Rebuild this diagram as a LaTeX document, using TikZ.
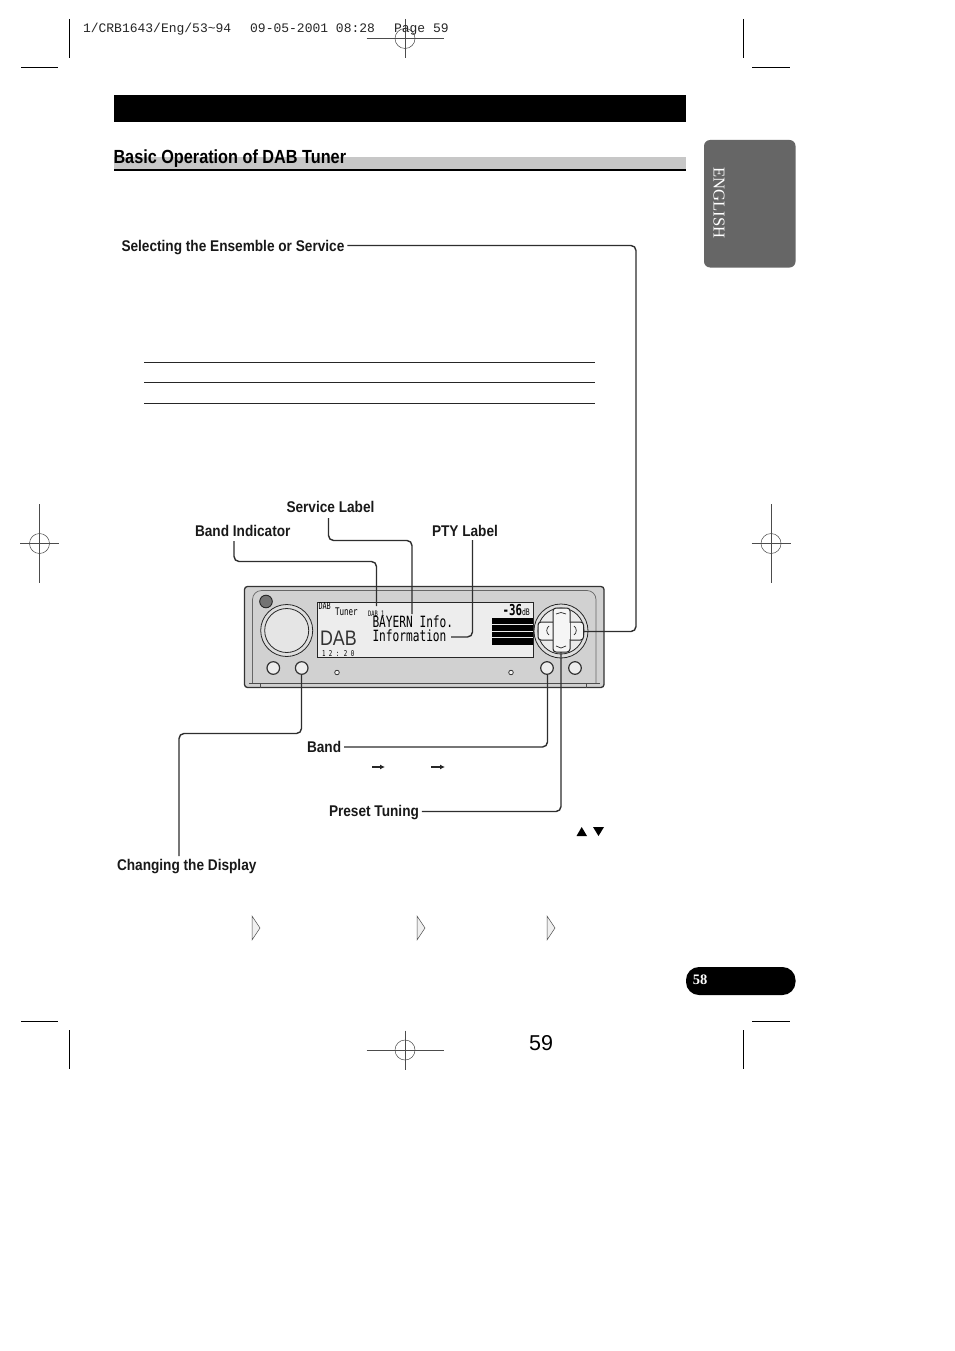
\documentclass[tikz,border=0pt]{standalone}
\usepackage{fontspec}
\usetikzlibrary{arrows.meta}
\setmainfont{Liberation Serif}
\newfontfamily\labfont[FakeStretch=0.88]{Liberation Sans}
\newfontfamily\headfont[FakeStretch=0.855]{Liberation Sans}
\newfontfamily\slugfont{Liberation Mono}
\newfontfamily\lcdfont[FakeStretch=0.72]{DejaVu Sans Mono}
\newfontfamily\plainsans{Liberation Sans}
\newcommand{\fs}[1]{\fontsize{#1}{#1}\selectfont}
\tikzset{
  every node/.style={inner sep=0pt,outer sep=0pt},
  lab/.style={font=\labfont\bfseries\fs{15.5},text=black!90},
  conn/.style={line width=1.4pt,draw=black!82,rounded corners=5pt},
  reg/.style={line width=0.7pt,draw=black},
  cross/.style={line width=0.5pt,draw=black!70},
  rule/.style={line width=0.9pt,draw=black!85},
  dev/.style={line width=0.8pt,draw=black!85},
  lcd/.style={font=\lcdfont\fs{15.5},text=black},
  triout/.style={line width=0.5pt,draw=black!70,fill=black!6},
  btn/.style={line width=1.2pt,draw=black!80,fill=black!7},
  jbar/.style={line width=1pt,draw=black!85,fill=black!4,rounded corners=3pt},
}
% centre x, centre y, half width, half height
\newcommand{\regcross}[4]{%
  \draw[cross] (#1-#3,#2) -- (#1+#3,#2) (#1,#2-#4) -- (#1,#2+#4);
  \draw[cross] (#1,#2) circle (10);}
\begin{document}
\begin{tikzpicture}[x=1pt,y=-1pt]
\useasboundingbox (0,0) rectangle (954,1351);
\fill[white] (0,0) rectangle (954,1351);
% crop marks
\draw[reg] (69.5,19) -- (69.5,58) (21,67.5) -- (58,67.5);
\draw[reg] (743,19) -- (743,58) (752,67.5) -- (790,67.5);
\draw[reg] (69.5,1030) -- (69.5,1069) (21,1021) -- (58,1021);
\draw[reg] (743,1030) -- (743,1069) (752,1021) -- (790,1021);
\regcross{405}{38.5}{38.5}{19.5}
\regcross{405}{1050}{38.5}{19.5}
\regcross{39.5}{543.5}{19.5}{39.5}
\regcross{771}{543.5}{19.5}{39.5}
\node[anchor=west,font=\slugfont\fs{13},text=black!85] (slug) at (83,29.5) {1/CRB1643/Eng/53\textasciitilde 94\hspace{19pt}09-05-2001 08:28\hspace{19pt}Page 59};
% heading
\fill[black] (114,95) rectangle (686,122);
\fill[black!22] (114,157) rectangle (686,169);
\fill[black] (114,169) rectangle (686,171);
\node[anchor=base west,font=\headfont\bfseries\fs{19},text=black] (title) at (113.5,163.5) {Basic Operation of DAB Tuner};
% side tab
\fill[black!60,rounded corners=6pt] (704,140) rectangle (795.5,267.5);
\node[rotate=-90,anchor=center,font=\fs{16.6},text=white] (english) at (719,203) {ENGLISH};
% page tab
\fill[black,rounded corners=13pt] (686,967) rectangle (795.5,995);
\node[anchor=center,font=\bfseries\fs{14.5},text=white] (p58) at (700,979.5) {58};
\node[anchor=base,font=\plainsans\fs{21.5},text=black] (p59) at (541,1050) {59};
% table rules
\draw[rule] (144,362.5) -- (595,362.5) (144,382.5) -- (595,382.5) (144,403.5) -- (595,403.5);
% device body
\draw[line width=1.3pt,draw=black!80,fill=black!18,rounded corners=3pt] (244.5,586.5) rectangle (604,687.5);
\draw[line width=0.7pt,draw=black!60,rounded corners=9pt] (252.5,683) -- (252.5,590.5) -- (596,590.5) -- (596,683);
\draw[line width=0.7pt,draw=black!70] (249,683) -- (600,683);
\draw[line width=0.7pt,draw=black!70] (260,683) -- (260,687.5) (586,683) -- (586,687.5);
\draw[line width=0.9pt,draw=black!85,fill=black!55] (266,601.5) circle (6.3);
% knob
\draw[dev,fill=black!13] (286.7,630.5) circle (26);
\draw[dev,fill=black!10] (286.7,630.5) circle (22);
% bottom buttons
\foreach \bx in {273.3,301.7,547,575}{\draw[btn] (\bx,668) circle (6.3);}
\foreach \bx in {337,511}{\draw[line width=0.7pt,draw=black!85,fill=black!5] (\bx,672.5) circle (2.3);}
% display
\draw[line width=0.8pt,draw=black!85,fill=black!7] (317.5,602.8) rectangle (533,657.5);
\node[anchor=base west,font=\lcdfont\fs{9.5}] (l1) at (318.5,609) {DAB};
\node[anchor=base west,font=\lcdfont\fs{10.5}] (l2) at (335,615.5) {Tuner};
\node[anchor=base west,font=\lcdfont\fs{7.5}] (l3) at (368,616) {DAB 1};
\node[anchor=base west,lcd] (l4) at (372.5,627.5) {BAYERN Info.};
\node[anchor=base west,lcd] (l5) at (372.5,641.5) {Information};
\node[anchor=base east,font=\lcdfont\bfseries\fs{15}] (l6) at (522,615.5) {-36};
\node[anchor=base west,font=\lcdfont\fs{9}] (l7) at (522,615.5) {dB};
\node[anchor=base west,font=\lcdfont\fs{8}] (l8) at (322,656) {1 2 : 2 0};
\node[anchor=base west,font=\plainsans\fs{21},xscale=0.85,text=black!80] (l9) at (320,645) {DAB};
\fill[black] (492,618) rectangle (533,644.5);
\draw[line width=0.7pt,draw=black!8] (492,624.5) -- (533,624.5) (492,631) -- (533,631) (492,637.5) -- (533,637.5);
% joystick
\draw[dev,fill=black!13] (561,631) circle (27);
\draw[dev,fill=black!8] (561,631) circle (23);
\draw[jbar] (538,622) rectangle (583.5,640);
\draw[jbar] (553,608) rectangle (570,652);
\fill[black!4] (553.5,622.6) rectangle (569.5,639.4);
\draw[line width=0.7pt,draw=black!85] (556,614) -- (561,612.5) -- (566,614) (556,646) -- (561,648) -- (566,646) (549,626) .. controls (546,628) and (546,633) .. (549,635) (574,626) .. controls (577,628) and (577,633) .. (574,635);
% labels
\node[lab,anchor=base west] (sel) at (121.5,251) {Selecting the Ensemble or Service};
\node[lab,anchor=base west] (svc) at (286.5,512.5) {Service Label};
\node[lab,anchor=base west] (bnd) at (195,536) {Band Indicator};
\node[lab,anchor=base west] (pty) at (432,536) {PTY Label};
\node[lab,anchor=base west] (band) at (307,752.5) {Band};
\node[lab,anchor=base west] (pre) at (329,816.5) {Preset Tuning};
\node[lab,anchor=base west] (chg) at (117,870) {Changing the Display};
% anchors on the device
\coordinate (joy) at (584,631.5);
\coordinate (bi) at (376.5,606);
\coordinate (si) at (412,614);
\coordinate (pi) at (451,637);
\coordinate (dispbtn) at (301.5,675);
\coordinate (bandbtn) at (547.5,675);
\coordinate (prebtn) at (561,652);
% connectors
\draw[conn] (sel.east |- 0,245.5) ++(3,0) -- (636,245.5) -- (636,631.5) -- (joy);
\draw[conn] (328.5,518) -- (328.5,540.5) -- (412,540.5) -- (si);
\draw[conn] (234,541) -- (234,561.5) -- (376.5,561.5) -- (bi);
\draw[conn] (472.5,540) -- (472.5,637) -- (pi);
\draw[conn] (band.east |- 0,747) ++(3,0) -- (547.5,747) -- (bandbtn);
\draw[conn] (pre.east |- 0,811.5) ++(3,0) -- (561,811.5) -- (prebtn);
\draw[conn] (179,856) -- (179,733.5) -- (301.5,733.5) -- (dispbtn);
% small arrows
\coordinate (a1s) at (372,767); \coordinate (a1e) at (385,767);
\coordinate (a2s) at (431,767); \coordinate (a2e) at (445,767);
\draw[line width=1.2pt,draw=black!85,-{Latex[length=5pt,width=5pt]}] (a1s) -- (a1e);
\draw[line width=1.2pt,draw=black!85,-{Latex[length=5pt,width=5pt]}] (a2s) -- (a2e);
% up/down triangles
\fill[black] (576.5,836) -- (581.7,827) -- (587,836) -- cycle;
\fill[black] (593,827) -- (604,827) -- (598.5,836) -- cycle;
% display sequence
\draw[triout] (252,916) -- (260,928) -- (252,940) -- cycle;
\draw[triout] (417,916) -- (425,928) -- (417,940) -- cycle;
\draw[triout] (547,916) -- (555,928) -- (547,940) -- cycle;
\end{tikzpicture}
\end{document}
